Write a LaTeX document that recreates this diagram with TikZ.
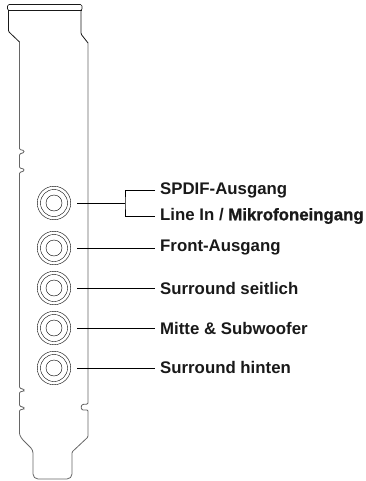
\documentclass[tikz,border=0pt]{standalone}
\usepackage{fontspec}
\setmainfont{Liberation Sans}
\newfontface\heavyface{Liberation Sans Bold}[FakeBold=1.2]
\tikzset{
  plate/.style={line width=0.8pt, draw=black!60, rounded corners=1pt},
  platetop/.style={line width=0.8pt, draw=black!90, rounded corners=1pt},
  jack/.style={circle, draw, line width=0.4pt, minimum size=#1, inner sep=0pt},
  portlabel/.style={anchor=west, inner xsep=5pt, inner ysep=0pt, font=\bfseries\fontsize{16.8}{19}\selectfont, text=black!90},
  lead/.style={line width=0.6pt}
}
\begin{document}
\begin{tikzpicture}[x=1pt, y=-1pt]
	\useasboundingbox (0,0) rectangle (365,481);

	% Bracket outline
	\draw[plate] (19.5,42) -- (19.5,149.5) -- (24,150.5) -- (24,152.5) -- (19.5,154) -- (19.5,168) -- (24,169) -- (24,171) -- (19.5,172.5)
		-- (19.5,388) -- (24,389.5) -- (24,391) -- (19.5,392) -- (19.5,406) -- (24,407.5) -- (24,409) -- (19.5,410) -- (19.5,434)
		[rounded corners=3pt] -- (21,438) -- (33,450) [rounded corners=5pt] -- (33,479) -- (72,479) [rounded corners=1pt] -- (72,452) -- (88,437)
		-- (88,410) -- (82,410) -- (81,407) -- (82,404.5) -- (88,404) -- (88,43);
	\draw[platetop] (8.5,10.5) -- (8.5,31.5) -- (19.5,42);
	\draw[platetop] (88,43) -- (81,34) -- (81,10.5);
	\draw[platetop, line width=0.6pt, rounded corners=1.5pt] (7.5,4.5) rectangle (82,10.5);
	\draw[platetop, line width=1.2pt, rounded corners=0pt] (8,10.5) -- (81.5,10.5);

	% Jacks
	\foreach \name/\ypos in {a/203, b/248, c/288, d/328, e/368} {
		\node[jack=33.5pt, outer sep=6.5pt] (\name) at (54,\ypos) {};
		\node[jack=27pt] (\name r) at (54,\ypos) {};
		\node[jack=16pt] (\name c) at (54,\ypos) {};
	}

	% Labels
	\node[portlabel] (spdif) at (155,190) {SPDIF-Ausgang};
	\node[portlabel] (linein) at (155,216) {Line In / {\heavyface Mikrofoneingang}};
	\node[portlabel] (front) at (155,247) {Front-Ausgang};
	\node[portlabel] (side) at (155,288) {Surround seitlich};
	\node[portlabel] (sub) at (155,328) {Mitte \& Subwoofer};
	\node[portlabel] (rear) at (155,367) {Surround hinten};

	% Leads
	\coordinate (fork) at (125,203);
	\draw[lead] (a) -- (fork);
	\draw[lead] (spdif.west) -- (spdif.west -| fork) -- (fork) -- (linein.west -| fork) -- (linein.west);
	\draw[lead] (b) -- (b -| front.west);
	\draw[lead] (c) -- (c -| side.west);
	\draw[lead] (d) -- (d -| sub.west);
	\draw[lead] (e) -- (e -| rear.west);
\end{tikzpicture}
\end{document}
